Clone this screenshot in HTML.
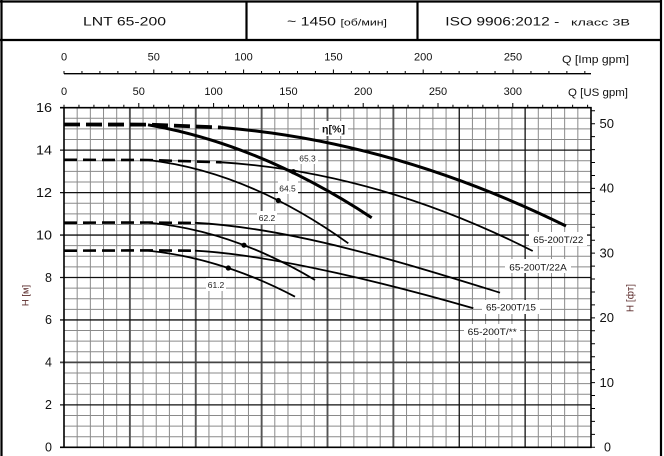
<!DOCTYPE html>
<html><head><meta charset="utf-8"><style>
html,body{margin:0;padding:0;background:#fff;}
svg{display:block;font-family:"Liberation Sans","DejaVu Sans",sans-serif;}
</style></head><body>
<svg width="664" height="456" viewBox="0 0 664 456" xmlns="http://www.w3.org/2000/svg">
<rect width="664" height="456" fill="#fff"/>
<!-- frame -->
<path d="M1.5 0V456M661 0V456M0 1.5H662M0 40H662M246.5 1V40M417.5 1V40" stroke="#000" stroke-width="2.2" fill="none"/>
<text x="83" y="25.7" font-size="12" textLength="83" lengthAdjust="spacingAndGlyphs" fill="#111">LNT 65-200</text>
<text x="287" y="25.7" font-size="12" textLength="49" lengthAdjust="spacingAndGlyphs" fill="#111">~ 1450</text>
<text x="340.5" y="25.7" font-size="9" textLength="46.5" lengthAdjust="spacingAndGlyphs" fill="#111">[об/мин]</text>
<text x="445.3" y="25.7" font-size="12" textLength="114" lengthAdjust="spacingAndGlyphs" fill="#111">ISO 9906:2012 -</text>
<text x="571" y="25.7" font-size="9.5" textLength="59" lengthAdjust="spacingAndGlyphs" fill="#111">класс 3В</text>

<!-- minor grid -->
<path stroke="#8a8a8a" stroke-width="1" fill="none" d="
M77.18 107.7V447.3M90.35 107.7V447.3M103.53 107.7V447.3M116.7 107.7V447.3
M143.05 107.7V447.3M156.23 107.7V447.3M169.4 107.7V447.3M182.58 107.7V447.3
M208.93 107.7V447.3M222.1 107.7V447.3M235.28 107.7V447.3M248.45 107.7V447.3
M274.8 107.7V447.3M287.98 107.7V447.3M301.15 107.7V447.3M314.33 107.7V447.3
M340.68 107.7V447.3M353.85 107.7V447.3M367.03 107.7V447.3M380.2 107.7V447.3
M406.55 107.7V447.3M419.73 107.7V447.3M432.9 107.7V447.3M446.08 107.7V447.3
M472.43 107.7V447.3M485.6 107.7V447.3M498.78 107.7V447.3M511.95 107.7V447.3
M538.3 107.7V447.3M551.48 107.7V447.3M564.65 107.7V447.3M577.83 107.7V447.3
M64 436.69H591M64 426.08H591M64 415.46H591
M64 394.24H591M64 383.63H591M64 373.01H591
M64 351.79H591M64 341.18H591M64 330.56H591
M64 309.34H591M64 298.73H591M64 288.11H591
M64 266.89H591M64 256.28H591M64 245.66H591
M64 224.44H591M64 213.83H591M64 203.21H591
M64 181.99H591M64 171.38H591M64 160.76H591
M64 139.54H591M64 128.93H591M64 118.31H591"/>
<!-- major grid -->
<path stroke="#555" stroke-width="1.9" fill="none" d="
M129.88 107.7V447.3M195.75 107.7V447.3M261.63 107.7V447.3M327.5 107.7V447.3
M393.38 107.7V447.3"/>
<path stroke="#111" stroke-width="1.3" fill="none" d="M459.25 107.7V447.3M525.13 107.7V447.3"/>
<path stroke="#111" stroke-width="1.3" fill="none" d="
M60 404.85H591M60 319.95H591M60 277.5H591M60 235.05H591M60 192.6H591M60 150.15H591"/>
<path stroke="#444" stroke-width="1.8" fill="none" d="M60 362.4H591"/>
<!-- plot border -->
<path stroke="#000" stroke-width="1.6" fill="none" d="M64 107.7V447.3H591V107.7H60M60 447.3H64"/>

<!-- right ft ticks -->
<path stroke="#000" stroke-width="1" fill="none" d="
M591 447.3h4M591 434.36h4M591 421.41h4M591 408.47h4M591 395.53h4M591 382.58h4M591 369.64h4M591 356.7h4M591 343.75h4M591 330.81h4M591 317.87h4M591 304.92h4M591 291.98h4M591 279.04h4M591 266.09h4M591 253.15h4M591 240.21h4M591 227.26h4M591 214.32h4M591 201.38h4M591 188.43h4M591 175.49h4M591 162.54h4M591 149.6h4M591 136.66h4M591 123.72h4M591 110.77h4"/>

<!-- US gpm ticks -->
<path stroke="#000" stroke-width="1" fill="none" d="
M64 104.7V107.7M78.96 104.7V107.7M93.92 104.7V107.7M108.88 104.7V107.7M123.84 104.7V107.7M138.8 103V107.7
M153.76 104.7V107.7M168.72 104.7V107.7M183.68 104.7V107.7M198.64 104.7V107.7M213.6 103V107.7
M228.56 104.7V107.7M243.52 104.7V107.7M258.48 104.7V107.7M273.44 104.7V107.7M288.4 103V107.7
M303.36 104.7V107.7M318.32 104.7V107.7M333.28 104.7V107.7M348.24 104.7V107.7M363.2 103V107.7
M378.16 104.7V107.7M393.12 104.7V107.7M408.08 104.7V107.7M423.04 104.7V107.7M438 103V107.7
M452.96 104.7V107.7M467.92 104.7V107.7M482.88 104.7V107.7M497.84 104.7V107.7M512.8 103V107.7
M527.76 104.7V107.7M542.72 104.7V107.7M557.68 104.7V107.7M572.64 104.7V107.7M587.6 104.7V107.7"/>
<!-- Imp gpm axis -->
<path stroke="#000" stroke-width="1.3" fill="none" d="M64 73.7H591"/>
<path stroke="#000" stroke-width="1" fill="none" d="
M64 71V73.7M81.96 71V73.7M99.92 71V73.7M117.88 71V73.7M135.84 71V73.7M153.8 69.5V73.7
M171.76 71V73.7M189.72 71V73.7M207.68 71V73.7M225.64 71V73.7M243.6 69.5V73.7
M261.56 71V73.7M279.52 71V73.7M297.48 71V73.7M315.44 71V73.7M333.4 69.5V73.7
M351.36 71V73.7M369.32 71V73.7M387.28 71V73.7M405.24 71V73.7M423.2 69.5V73.7
M441.16 71V73.7M459.12 71V73.7M477.08 71V73.7M495.04 71V73.7M513 69.5V73.7
M530.96 71V73.7M548.92 71V73.7M566.88 71V73.7M584.84 71V73.7"/>

<!-- top labels -->
<g font-size="11" text-anchor="middle" fill="#111">
<text x="64" y="60.7">0</text><text x="153.8" y="60.7">50</text><text x="243.6" y="60.7">100</text>
<text x="333.4" y="60.7">150</text><text x="423.2" y="60.7">200</text><text x="513" y="60.7">250</text>
<text x="64" y="95">0</text><text x="138.8" y="95">50</text><text x="213.6" y="95">100</text>
<text x="288.4" y="95">150</text><text x="363.2" y="95">200</text><text x="438" y="95">250</text><text x="512.8" y="95">300</text>
</g>
<text x="562" y="63" font-size="11" textLength="67" lengthAdjust="spacingAndGlyphs" fill="#111">Q [Imp gpm]</text>
<text x="568" y="96" font-size="11" textLength="60" lengthAdjust="spacingAndGlyphs" fill="#111">Q [US gpm]</text>

<!-- left labels -->
<g font-size="12.5" text-anchor="end" fill="#111">
<text x="52" y="451.6">0</text><text x="52" y="409.1">2</text><text x="52" y="366.7">4</text>
<text x="52" y="324.2">6</text><text x="52" y="281.8">8</text>
<text x="52" y="239.3" textLength="16" lengthAdjust="spacingAndGlyphs">10</text>
<text x="52" y="196.9" textLength="16" lengthAdjust="spacingAndGlyphs">12</text>
<text x="52" y="154.4" textLength="16" lengthAdjust="spacingAndGlyphs">14</text>
<text x="52" y="112" textLength="16" lengthAdjust="spacingAndGlyphs">16</text>
</g>
<!-- right labels -->
<g font-size="12.5" fill="#111">
<text x="604" y="451.6">0</text>
<text x="599.5" y="386.9" textLength="14.5" lengthAdjust="spacingAndGlyphs">10</text>
<text x="599.5" y="322.2" textLength="14.5" lengthAdjust="spacingAndGlyphs">20</text>
<text x="599.5" y="257.5" textLength="14.5" lengthAdjust="spacingAndGlyphs">30</text>
<text x="599.5" y="192.7" textLength="14.5" lengthAdjust="spacingAndGlyphs">40</text>
<text x="599.5" y="128" textLength="14.5" lengthAdjust="spacingAndGlyphs">50</text>
</g>
<text transform="translate(28.5,295.5) rotate(-90)" font-size="9.5" text-anchor="middle" fill="#5a2a2a">H [м]</text>
<text transform="translate(633.5,298) rotate(-90)" font-size="10" text-anchor="middle" fill="#5a2a2a">H [фт]</text>

<!-- label boxes -->
<g fill="#fff">
<rect x="319" y="121" width="29" height="15"/>
<rect x="298" y="151" width="20" height="13"/>
<rect x="278" y="181" width="20" height="13"/>
<rect x="257" y="211" width="20" height="13"/>
<rect x="206" y="278" width="20" height="13"/>
<rect x="529" y="232" width="58" height="14"/>
<rect x="505" y="259" width="66" height="14"/>
<rect x="482" y="300" width="58" height="14"/>
<rect x="464" y="324" width="56" height="14"/>
</g>

<!-- curves -->
<g fill="none" stroke="#000" stroke-linejoin="round" stroke-linecap="butt">
<!-- dashed prefixes -->
<path d="M64 124.5L148 124.6L221 127.5" stroke-width="3.8" stroke-dasharray="16 6"/>
<path d="M64 159.8L148 160L221.7 162.3" stroke-width="2.6" stroke-dasharray="13 6"/>
<path d="M64 222.7L148 222.5L195 223" stroke-width="2.6" stroke-dasharray="13 6"/>
<path d="M64 250.7L148 250.4L195 250.7" stroke-width="2.6" stroke-dasharray="13 6"/>
<!-- thick -->
<path stroke-width="3" d="M221 127.5Q393.5 141.1 566 226"/>
<path stroke-width="3" d="M148 124.8Q259.85 144.1 371.7 217.7"/>
<!-- thin -->
<path stroke-width="1.8" d="M148 160Q248.15 171.5 348.3 243.3"/>
<path stroke-width="1.8" d="M221.7 162.3Q377.2 172.3 532.7 251"/>
<path stroke-width="1.8" d="M148 222.6Q231.5 229.95 315 280"/>
<path stroke-width="1.8" d="M195 222.8C295 227.8 420 267.9 500 292.7"/>
<path stroke-width="1.8" d="M148 250.6Q221.5 258.1 295 296.7"/>
<path stroke-width="1.8" d="M195 250.7C275 254.7 400.3 287.1 473.3 308.3"/>
</g>
<!-- markers -->
<g fill="#000">
<circle cx="293.3" cy="171.6" r="2.6"/>
<circle cx="278.3" cy="200.5" r="2.6"/>
<circle cx="244" cy="245.2" r="2.6"/>
<circle cx="228.3" cy="268" r="2.6"/>
</g>

<!-- curve labels -->
<text x="322" y="132.5" font-size="10" font-weight="bold" textLength="23" lengthAdjust="spacingAndGlyphs" fill="#111">η[%]</text>
<g font-size="8.5" text-anchor="middle" fill="#222">
<text x="307.5" y="161.3">65.3</text>
<text x="287.5" y="191.3">64.5</text>
<text x="267" y="220.8">62.2</text>
<text x="216" y="287.8">61.2</text>
</g>
<g font-size="9.5" fill="#111">
<text x="533.3" y="243" textLength="50" lengthAdjust="spacingAndGlyphs">65-200T/22</text>
<text x="509.3" y="270.3" textLength="57.4" lengthAdjust="spacingAndGlyphs">65-200T/22A</text>
<text x="486" y="310.5" textLength="50" lengthAdjust="spacingAndGlyphs">65-200T/15</text>
<text x="467.7" y="335" textLength="49" lengthAdjust="spacingAndGlyphs">65-200T/**</text>
</g>
</svg>
</body></html>
